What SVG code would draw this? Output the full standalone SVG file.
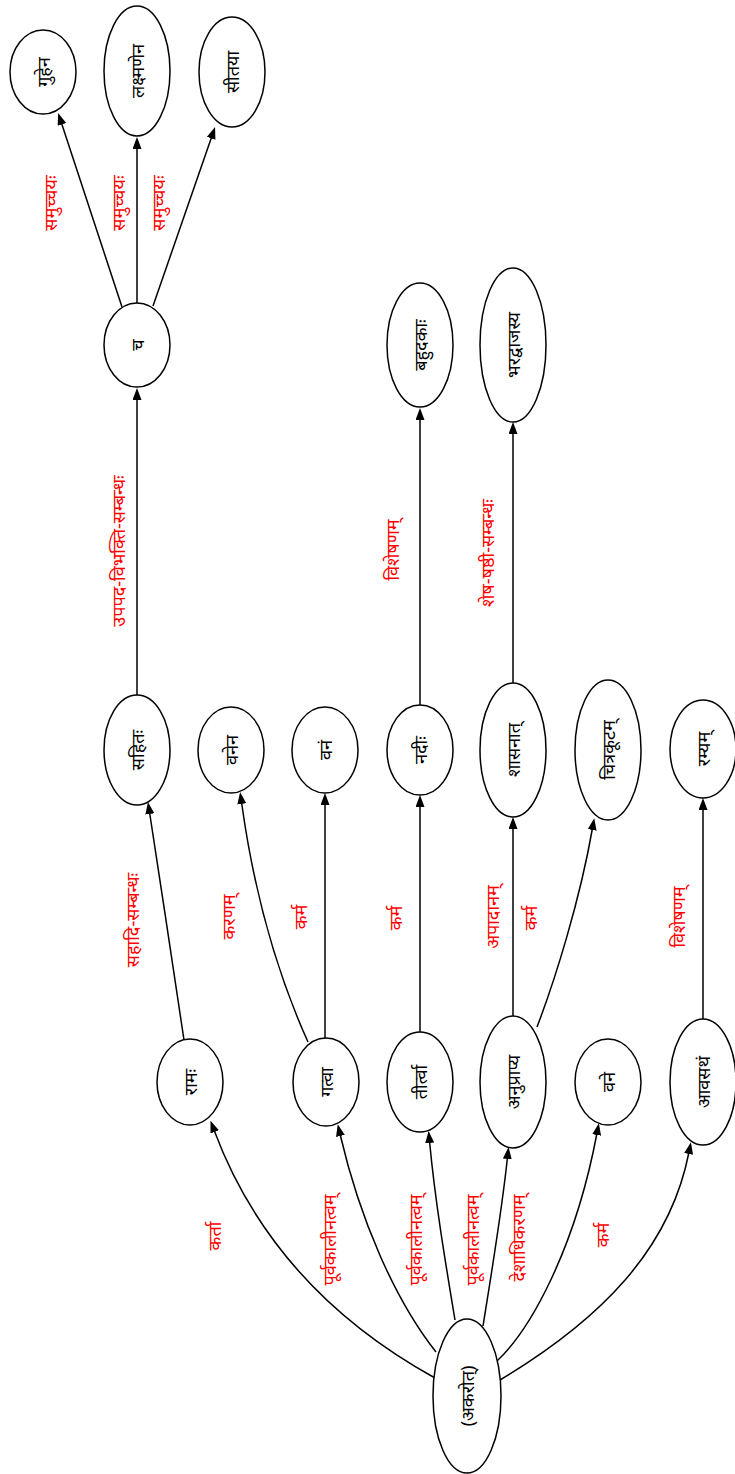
<svg xmlns="http://www.w3.org/2000/svg" width="735" height="1474" viewBox="0 0 735 1474">
<style>
.n ellipse{fill:#fff;stroke:#000;stroke-width:1.5}
.n text{font-family:"Noto Sans",sans-serif;font-size:18px;fill:#000;text-anchor:middle;dominant-baseline:central}
.e path{fill:none;stroke:#000;stroke-width:1.5}
.e text{font-family:"Noto Sans",sans-serif;font-size:18px;fill:#f00;text-anchor:middle;dominant-baseline:central}
</style>
<defs>
<marker id="ah" markerUnits="userSpaceOnUse" markerWidth="13" markerHeight="10" refX="2" refY="4.5" orient="auto">
<path d="M0,0 L12,4.5 L0,9 z" fill="#000"/>
</marker>
</defs>
<rect width="735" height="1474" fill="#fff"/>
<g id="edges" class="e">
<path d="M122,307 L61.3,122.5" marker-end="url(#ah)"/>
<path d="M137,303 L137,147" marker-end="url(#ah)"/>
<path d="M153,306 L211.8,136.5" marker-end="url(#ah)"/>
<path d="M137,695 L137,398" marker-end="url(#ah)"/>
<path d="M420,705 L420,418" marker-end="url(#ah)"/>
<path d="M513,683 L513,432" marker-end="url(#ah)"/>
<path d="M184,1040 C175,980 160,880 149.5,812" marker-end="url(#ah)"/>
<path d="M308,1042 C280,980 255,900 241.5,802" marker-end="url(#ah)"/>
<path d="M325,1038 L325,803" marker-end="url(#ah)"/>
<path d="M420,1032 L420,805" marker-end="url(#ah)"/>
<path d="M513,1017 L513,827" marker-end="url(#ah)"/>
<path d="M537,1027 C555,980 580,900 592.5,828" marker-end="url(#ah)"/>
<path d="M703,1019 L703,808" marker-end="url(#ah)"/>
<path d="M435,1378 C330,1320 255,1240 214,1130" marker-end="url(#ah)"/>
<path d="M436,1352 C395,1300 360,1220 340,1134" marker-end="url(#ah)"/>
<path d="M455,1320 C445,1260 435,1200 429.5,1141" marker-end="url(#ah)"/>
<path d="M483,1326 C492,1270 502,1210 507.5,1157" marker-end="url(#ah)"/>
<path d="M497,1361 C530,1330 575,1250 597,1133" marker-end="url(#ah)"/>
<path d="M500,1380 C600,1320 670,1250 689,1152" marker-end="url(#ah)"/>
<text transform="rotate(-90 50 203)" x="50" y="203">समुच्चयः</text>
<text transform="rotate(-90 118 203)" x="118" y="203">समुच्चयः</text>
<text transform="rotate(-90 158 203)" x="158" y="203">समुच्चयः</text>
<text transform="rotate(-90 118 551)" x="118" y="551">उपपद-विभक्ति-सम्बन्धः</text>
<text transform="rotate(-90 392 550)" x="392" y="550">विशेषणम्</text>
<text transform="rotate(-90 487 553)" x="487" y="553">शेष-षष्ठी-सम्बन्धः</text>
<text transform="rotate(-90 132 920)" x="132" y="920">सहादि-सम्बन्धः</text>
<text transform="rotate(-90 228 917)" x="228" y="917">करणम्</text>
<text transform="rotate(-90 300 917)" x="300" y="917">कर्म</text>
<text transform="rotate(-90 395 918)" x="395" y="918">कर्म</text>
<text transform="rotate(-90 492 917)" x="492" y="917">अपादानम्</text>
<text transform="rotate(-90 530 918)" x="530" y="918">कर्म</text>
<text transform="rotate(-90 678 917)" x="678" y="917">विशेषणम्</text>
<text transform="rotate(-90 214 1236)" x="214" y="1236">कर्ता</text>
<text transform="rotate(-90 329 1240)" x="329" y="1240">पूर्वकालीनत्वम्</text>
<text transform="rotate(-90 415 1240)" x="415" y="1240">पूर्वकालीनत्वम्</text>
<text transform="rotate(-90 472 1240)" x="472" y="1240">पूर्वकालीनत्वम्</text>
<text transform="rotate(-90 518 1238)" x="518" y="1238">देशाधिकरणम्</text>
<text transform="rotate(-90 602 1235)" x="602" y="1235">कर्म</text>
</g>
<g id="n_guhena" class="n"><ellipse cx="43" cy="72" rx="33" ry="42"/><text transform="rotate(-90 43 72)" x="43" y="72">गुहेन</text></g>
<g id="n_lakshmanena" class="n"><ellipse cx="137" cy="71" rx="33" ry="65"/><text transform="rotate(-90 137 71)" x="137" y="71">लक्ष्मणेन</text></g>
<g id="n_sitaya" class="n"><ellipse cx="232" cy="72" rx="33" ry="55"/><text transform="rotate(-90 232 72)" x="232" y="72">सीतया</text></g>
<g id="n_ca" class="n"><ellipse cx="137" cy="345" rx="33" ry="42"/><text transform="rotate(-90 137 345)" x="137" y="345">च</text></g>
<g id="n_bahudakah" class="n"><ellipse cx="420" cy="345" rx="33" ry="62"/><text transform="rotate(-90 420 345)" x="420" y="345">बहुदकाः</text></g>
<g id="n_bharadvajasya" class="n"><ellipse cx="513" cy="345" rx="33" ry="77"/><text transform="rotate(-90 513 345)" x="513" y="345">भरद्वाजस्य</text></g>
<g id="n_sahitah" class="n"><ellipse cx="137" cy="750" rx="33" ry="55"/><text transform="rotate(-90 137 750)" x="137" y="750">सहितः</text></g>
<g id="n_vanena" class="n"><ellipse cx="231" cy="750" rx="33" ry="43"/><text transform="rotate(-90 231 750)" x="231" y="750">वनेन</text></g>
<g id="n_vanam" class="n"><ellipse cx="325" cy="750" rx="33" ry="43"/><text transform="rotate(-90 325 750)" x="325" y="750">वनं</text></g>
<g id="n_nadih" class="n"><ellipse cx="420" cy="750" rx="33" ry="45"/><text transform="rotate(-90 420 750)" x="420" y="750">नदीः</text></g>
<g id="n_shasanat" class="n"><ellipse cx="513" cy="750" rx="33" ry="67"/><text transform="rotate(-90 513 750)" x="513" y="750">शासनात्</text></g>
<g id="n_citrakutam" class="n"><ellipse cx="608" cy="750" rx="33" ry="70"/><text transform="rotate(-90 608 750)" x="608" y="750">चित्रकूटम्</text></g>
<g id="n_ramyam" class="n"><ellipse cx="703" cy="749" rx="33" ry="49"/><text transform="rotate(-90 703 749)" x="703" y="749">रम्यम्</text></g>
<g id="n_ramah" class="n"><ellipse cx="190" cy="1082" rx="33" ry="43"/><text transform="rotate(-90 190 1082)" x="190" y="1082">रामः</text></g>
<g id="n_gatva" class="n"><ellipse cx="326" cy="1082" rx="33" ry="44"/><text transform="rotate(-90 326 1082)" x="326" y="1082">गत्वा</text></g>
<g id="n_tirtva" class="n"><ellipse cx="420" cy="1082" rx="33" ry="50"/><text transform="rotate(-90 420 1082)" x="420" y="1082">तीर्त्वा</text></g>
<g id="n_anuprapya" class="n"><ellipse cx="513" cy="1082" rx="33" ry="66"/><text transform="rotate(-90 513 1082)" x="513" y="1082">अनुप्राप्य</text></g>
<g id="n_vane" class="n"><ellipse cx="608" cy="1082" rx="33" ry="43"/><text transform="rotate(-90 608 1082)" x="608" y="1082">वने</text></g>
<g id="n_avasatham" class="n"><ellipse cx="703" cy="1082" rx="33" ry="63"/><text transform="rotate(-90 703 1082)" x="703" y="1082">आवसथं</text></g>
<g id="n_akarot" class="n"><ellipse cx="467" cy="1396" rx="34" ry="77"/><text transform="rotate(-90 467 1396)" x="467" y="1396">(अकरोत्)</text></g>
</svg>
